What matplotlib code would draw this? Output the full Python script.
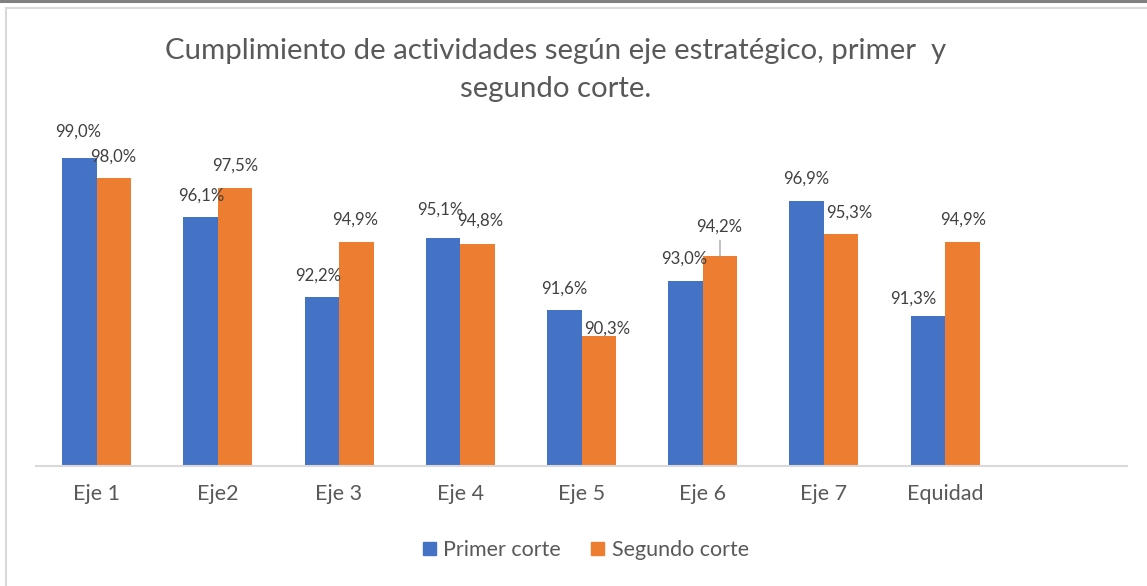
import matplotlib
matplotlib.use("Agg")
import matplotlib.pyplot as plt
from matplotlib.patches import Patch
from matplotlib.lines import Line2D

plt.rcParams['font.family'] = ['Lato', 'DejaVu Sans']

categories = ["Eje 1", "Eje2", "Eje 3", "Eje 4", "Eje 5", "Eje 6", "Eje 7", "Equidad"]
primer = [99.0, 96.1, 92.2, 95.1, 91.6, 93.0, 96.9, 91.3]
segundo = [98.0, 97.5, 94.9, 94.8, 90.3, 94.2, 95.3, 94.9]
series_names = ["Primer corte", "Segundo corte"]
title = "Cumplimiento de actividades según eje estratégico, primer  y\nsegundo corte."

# label offsets (pixels) from bar top — styling only
off_primer = [(-1, 26), (1, 22), (-4, 22), (-3, 28), (0, 21), (-1, 22), (0, 22), (-15, 17)]
off_segundo = [(-1, 22), (0, 23), (-1, 22), (3, 23), (8, 8), (-1, 30), (8, 21), (1, 22)]

BLUE = "#4472C4"
ORANGE = "#ED7D31"
GREY_TXT = "#595959"
LBL_TXT = "#404040"

W, H = 1147, 586
fig = plt.figure(figsize=(W / 100, H / 100), dpi=100)
fig.patch.set_facecolor("white")

# frame lines
fig.add_artist(Line2D([0, 1], [1 - 1 / H, 1 - 1 / H], color="#808080", lw=2.2, transform=fig.transFigure))
fig.add_artist(Line2D([6 / W, 1], [1 - 7.5 / H, 1 - 7.5 / H], color="#d9d9d9", lw=1.5, transform=fig.transFigure))
fig.add_artist(Line2D([6 / W, 6 / W], [0, 1 - 7.5 / H], color="#d9d9d9", lw=1.5, transform=fig.transFigure))

ax_left, ax_right, ax_base, ax_top = 36, 1127, 466, 137
ax = fig.add_axes([ax_left / W, (H - ax_base) / H, (ax_right - ax_left) / W, (ax_base - ax_top) / H])
ax.set_facecolor("none")
ymin, ymax = 84.0, 100.0
ax.set_ylim(ymin, ymax)
ax.set_xlim(-0.5, 8.5)

bw = 0.285
xs = list(range(len(categories)))
xb = [x - bw / 2 for x in xs]
xo = [x + bw / 2 for x in xs]
ax.bar(xb, [v - ymin for v in primer], bw, bottom=ymin, color=BLUE, label=series_names[0])
ax.bar(xo, [v - ymin for v in segundo], bw, bottom=ymin, color=ORANGE, label=series_names[1])

def fmt(v):
    return f"{v:.1f}".replace(".", ",") + "%"

for x, v, (dx, dy) in zip(xb, primer, off_primer):
    ax.annotate(fmt(v), xy=(x, v), xytext=(dx, dy), textcoords="offset pixels",
                ha="center", va="center", fontsize=12.1, color=LBL_TXT, annotation_clip=False,
                zorder=5)
for i, (x, v, (dx, dy)) in enumerate(zip(xo, segundo, off_segundo)):
    ax.annotate(fmt(v), xy=(x, v), xytext=(dx, dy), textcoords="offset pixels",
                ha="center", va="center", fontsize=12.1, color=LBL_TXT, annotation_clip=False,
                zorder=5)
    if dy >= 30:
        ax.annotate("", xy=(x, v), xytext=(0, dy - 14), textcoords="offset pixels",
                    arrowprops=dict(arrowstyle="-", color="#a6a6a6", lw=1, shrinkA=0, shrinkB=0),
                    annotation_clip=False)

for s in ["top", "right", "left"]:
    ax.spines[s].set_visible(False)
ax.spines["bottom"].set_color("#d9d9d9")
ax.spines["bottom"].set_linewidth(1.5)
ax.set_yticks([])
ax.set_xticks(xs)
ax.set_xticklabels(categories, fontsize=15.5, color=GREY_TXT)
ax.tick_params(axis="x", length=0, pad=13)

fig.text(556 / W, 1 - 70 / H, title, ha="center", va="center", fontsize=21.2,
         color=GREY_TXT, linespacing=1.55)

handles = [Patch(color=BLUE), Patch(color=ORANGE)]
fig.legend(handles, series_names, loc="center", bbox_to_anchor=(586 / W, 1 - 550 / H),
           ncol=2, frameon=False, fontsize=15.5, handlelength=0.6, handleheight=0.6,
           handletextpad=0.35, columnspacing=1.4, labelcolor=GREY_TXT)

fig.savefig("out.png", dpi=100)
